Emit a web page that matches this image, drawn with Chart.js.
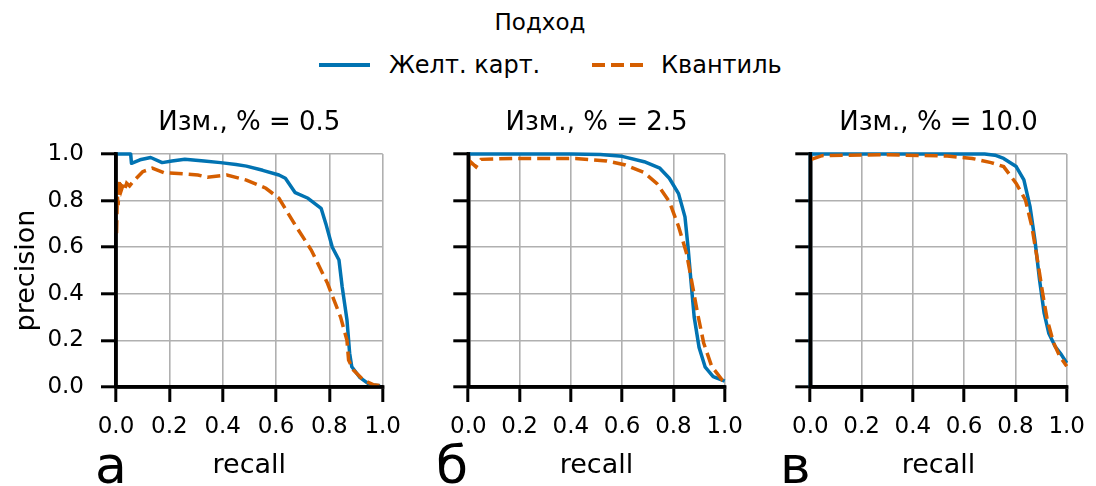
<!DOCTYPE html>
<html lang="ru">
<head>
  <meta charset="UTF-8" />
  <title>precision / recall</title>
  <script src="https://cdn.jsdelivr.net/npm/chart.js"></script>
  <style>
    body { margin: 0; background: #fff; font-family: 'DejaVu Sans', sans-serif; }
    #wrap { position: relative; width: 1096px; height: 486px; overflow: hidden; }
    canvas { position: absolute; top: 100px; }
    .txt { position: absolute; white-space: nowrap; color: #000; line-height: 1; }
    .letter { font-size: 52px; top: 439px; }
    .leg { font-size: 24px; top: 53px; }
  </style>
</head>
<body>
<div id="wrap">
  <!-- легенда -->
  <div class="txt" style="font-size:23px; top:11px; left:540px; transform:translateX(-50%);">Подход</div>
  <svg style="position:absolute; left:0; top:0;" width="1096" height="100">
    <line x1="319" y1="65" x2="370" y2="65" stroke="#0173b2" stroke-width="4" />
    <line x1="592" y1="65" x2="643" y2="65" stroke="#d55e00" stroke-width="4" stroke-dasharray="13 6" />
  </svg>
  <div class="txt leg" id="leg1" style="left:389px;"></div>
  <div class="txt leg" id="leg2" style="left:661px;"></div>

  <canvas id="c1" width="412" height="386" style="left:0px;"></canvas>
  <canvas id="c2" width="315" height="386" style="left:439px;"></canvas>
  <canvas id="c3" width="315" height="386" style="left:781px;"></canvas>

  <div class="txt letter" style="left:95px;">а</div>
  <div class="txt letter" style="left:436px;">б</div>
  <div class="txt letter" style="left:780px;">в</div>
</div>

<script>
  const panelTitles = ['Изм., % = 0.5', 'Изм., % = 2.5', 'Изм., % = 10.0'];
  const seriesNames = ['Желт. карт.', 'Квантиль'];
  const tickValues = [0, 0.2, 0.4, 0.6, 0.8, 1.0];

  // а) 0.5 %
  const recallYellow05 = [0, 0.055, 0.058, 0.09, 0.13, 0.173, 0.21, 0.258, 0.33, 0.392, 0.45, 0.489, 0.55, 0.611, 0.635, 0.672, 0.72, 0.769, 0.787, 0.811, 0.836, 0.848, 0.866, 0.876, 0.884, 0.915, 0.951, 0.99];
  const precYellow05   = [1.0, 1.0, 0.96, 0.975, 0.985, 0.963, 0.97, 0.977, 0.97, 0.963, 0.955, 0.948, 0.93, 0.91, 0.896, 0.834, 0.81, 0.767, 0.70, 0.60, 0.545, 0.43, 0.288, 0.145, 0.087, 0.04, 0.01, 0.005];
  const recallQuant05 = [0.002, 0.005, 0.008, 0.013, 0.02, 0.027, 0.033, 0.04, 0.051, 0.063, 0.08, 0.1, 0.136, 0.179, 0.25, 0.307, 0.343, 0.416, 0.489, 0.562, 0.611, 0.672, 0.732, 0.793, 0.842, 0.866, 0.872, 0.89, 0.927, 0.964, 1.0];
  const precQuant05   = [0.66, 0.82, 0.78, 0.89, 0.845, 0.87, 0.85, 0.875, 0.863, 0.88, 0.9, 0.924, 0.939, 0.92, 0.915, 0.91, 0.9, 0.91, 0.888, 0.853, 0.81, 0.695, 0.588, 0.445, 0.30, 0.20, 0.116, 0.073, 0.03, 0.01, 0.005];

  // б) 2.5 %
  const recallYellow25 = [0, 0.2, 0.4, 0.515, 0.6, 0.686, 0.747, 0.784, 0.82, 0.845, 0.857, 0.869, 0.881, 0.9, 0.924, 0.955, 1.0];
  const precYellow25   = [1.0, 1.0, 1.0, 0.998, 0.99, 0.967, 0.939, 0.896, 0.83, 0.73, 0.60, 0.447, 0.30, 0.17, 0.085, 0.045, 0.025];
  const recallQuant25 = [0.003, 0.01, 0.03, 0.05, 0.173, 0.418, 0.54, 0.613, 0.686, 0.735, 0.784, 0.82, 0.851, 0.875, 0.894, 0.918, 0.949, 0.991, 1.0];
  const precQuant25   = [0.95, 0.965, 0.945, 0.977, 0.981, 0.981, 0.97, 0.953, 0.92, 0.874, 0.796, 0.689, 0.574, 0.431, 0.317, 0.189, 0.089, 0.029, 0.025];

  // в) 10.0 %
  const recallYellow10 = [0, 0, 0.3, 0.68, 0.72, 0.754, 0.803, 0.833, 0.857, 0.876, 0.894, 0.912, 0.93, 0.955, 0.979, 1.0];
  const precYellow10   = [0, 1.0, 1.0, 1.0, 0.995, 0.981, 0.946, 0.889, 0.774, 0.631, 0.46, 0.317, 0.231, 0.174, 0.139, 0.103];
  const recallQuant10 = [0.004, 0.046, 0.3, 0.534, 0.632, 0.705, 0.754, 0.803, 0.839, 0.864, 0.888, 0.906, 0.924, 0.949, 0.973, 1.0];
  const precQuant10   = [0.977, 0.993, 0.997, 0.991, 0.981, 0.963, 0.946, 0.874, 0.803, 0.689, 0.531, 0.403, 0.289, 0.189, 0.131, 0.089];

  const BLUE = '#0173b2';
  const ORANGE = '#d55e00';

  document.getElementById('leg1').textContent = seriesNames[0];
  document.getElementById('leg2').textContent = seriesNames[1];

  Chart.defaults.font.family = "'DejaVu Sans', sans-serif";
  Chart.defaults.color = '#000';

  const pts = (rs, ps) => rs.map((r, i) => ({ x: r, y: ps[i] }));

  // оси поверх линий, как в matplotlib
  const spinesOnTop = {
    id: 'spinesOnTop',
    afterDatasetsDraw(chart) {
      const { ctx, chartArea: a } = chart;
      ctx.save();
      ctx.strokeStyle = '#000';
      ctx.lineWidth = 3.5;
      ctx.lineCap = 'square';
      ctx.beginPath();
      ctx.moveTo(a.left, a.top);
      ctx.lineTo(a.left, a.bottom);
      ctx.lineTo(a.right, a.bottom);
      ctx.stroke();
      ctx.restore();
    }
  };

  function makeChart(id, title, rY, pY, rQ, pQ, first) {
    new Chart(document.getElementById(id), {
      type: 'line',
      data: {
        datasets: [
          { label: seriesNames[0], data: pts(rY, pY), borderColor: BLUE, borderWidth: 3.5,
            pointRadius: 0, tension: 0, order: 1, clip: 6, borderJoinStyle: 'round' },
          { label: seriesNames[1], data: pts(rQ, pQ), borderColor: ORANGE, borderWidth: 3.5,
            borderDash: [13, 6], pointRadius: 0, tension: 0, order: 0, clip: 6 }
        ]
      },
      plugins: [spinesOnTop],
      options: {
        responsive: false,
        animation: false,
        layout: { padding: { top: 0, right: 22, bottom: 0, left: 0 } },
        plugins: {
          legend: { display: false },
          tooltip: { enabled: false },
          title: { display: true, text: title, fullSize: false, color: '#000',
                   font: { size: 26, weight: 'normal' }, padding: { top: 7.4, bottom: 15.4 } }
        },
        scales: {
          x: {
            type: 'linear', min: 0, max: 1,
            afterBuildTicks: s => { s.ticks = tickValues.map(v => ({ value: v })); },
            afterFit: s => { s.height = 99; },
            ticks: { font: { size: 23 }, padding: 11, maxRotation: 0, color: '#000',
                     callback: v => v.toFixed(1) },
            grid: { color: '#b0b0b0', lineWidth: 1.6, tickColor: '#000', tickWidth: 3, tickLength: 15 },
            border: { color: '#000', width: 3.5 },
            title: { display: true, text: 'recall', font: { size: 27 }, color: '#000',
                     padding: { top: 0, bottom: 4 } }
          },
          y: {
            type: 'linear', min: 0, max: 1,
            afterBuildTicks: s => { s.ticks = tickValues.map(v => ({ value: v })); },
            afterFit: s => { s.width = first ? 116 : 20; },
            ticks: { display: first, font: { size: 23 }, padding: 17, color: '#000',
                     callback: v => v.toFixed(1) },
            grid: { color: '#b0b0b0', lineWidth: 1.6, tickColor: '#000', tickWidth: 3, tickLength: 15 },
            border: { color: '#000', width: 3.5 },
            title: { display: first, text: 'precision', font: { size: 27 }, color: '#000',
                     padding: { top: 11, bottom: 0 } }
          }
        }
      }
    });
  }

  makeChart('c1', panelTitles[0], recallYellow05, precYellow05, recallQuant05, precQuant05, true);
  makeChart('c2', panelTitles[1], recallYellow25, precYellow25, recallQuant25, precQuant25, false);
  makeChart('c3', panelTitles[2], recallYellow10, precYellow10, recallQuant10, precQuant10, false);
</script>
</body>
</html>
